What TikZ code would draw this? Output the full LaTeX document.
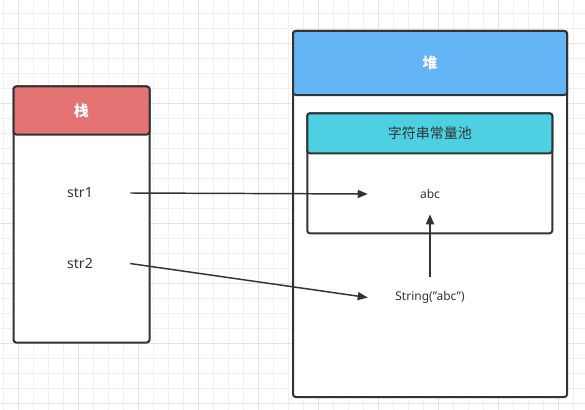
\documentclass[tikz,border=0pt]{standalone}
\usepackage{fontspec}
\setmainfont{Noto Sans}
\newfontfamily\cjk{Noto Sans CJK SC}
\usetikzlibrary{arrows.meta, positioning}
\definecolor{stackred}{HTML}{E57373}
\definecolor{heapblue}{HTML}{64B5F6}
\definecolor{poolcyan}{HTML}{4DD0E1}
\definecolor{inkgray}{HTML}{333333}
\definecolor{gridminor}{HTML}{F0F0F0}
\definecolor{gridmajor}{HTML}{E2E2E2}

\begin{document}
\begin{tikzpicture}[
    x=0.75pt, y=-0.75pt,
    lane/.style={rectangle, draw=inkgray, line width=1.5pt, rounded corners=2pt, fill=white, inner sep=0pt},
    head/.style={lane, text=white, font=\cjk\bfseries\fontsize{11}{13}\selectfont},
    var/.style={rectangle, minimum width=75pt, minimum height=30pt, inner sep=0pt, text=inkgray, font=\fontsize{10.5}{12}\selectfont},
    obj/.style={rectangle, minimum width=93pt, minimum height=30pt, inner sep=0pt, text=inkgray, font=\fontsize{9}{11}\selectfont},
    arr/.style={-{Triangle[length=7.5pt, width=6pt]}, line width=1.1pt, draw=inkgray}
]
    \useasboundingbox (0,0) rectangle (585,410);
    \fill[white] (0,0) rectangle (585,410);

    % Grid
    \foreach \i in {0,...,38} \draw[gridminor, line width=0.75pt] ({3.3+15*\i},0) -- ++(0,410);
    \foreach \i in {0,...,26} \draw[gridminor, line width=0.75pt] (0,{13.3+15*\i}) -- ++(585,0);
    \foreach \i in {0,...,9} \draw[gridmajor, line width=0.75pt] ({18.3+60*\i},0) -- ++(0,410);
    \foreach \i in {0,...,6} \draw[gridmajor, line width=0.75pt] (0,{43.3+60*\i}) -- ++(585,0);

    % Stack
    \node[lane, minimum width=102pt, minimum height=192pt] (stack) at (81.5,214.5) {};
    \node[head, fill=stackred, minimum width=102pt, minimum height=36pt, anchor=north] (stackhead) at (stack.north) {栈};

    % Heap
    \node[lane, minimum width=205.5pt, minimum height=274.5pt] (heap) at (430,214) {};
    \node[head, fill=heapblue, minimum width=205.5pt, minimum height=48pt, anchor=north] (heaphead) at (heap.north) {堆};

    % String pool
    \node[lane, minimum width=183.75pt, minimum height=90pt] (pool) at (429.75,173.3) {};
    \node[lane, fill=poolcyan, text=inkgray, font=\cjk\fontsize{10.5}{12}\selectfont, minimum width=183.75pt, minimum height=30pt, anchor=north] (poolhead) at (pool.north) {字符串常量池};

    % Variables and objects
    \node[var] (str1) at (80,193) {str1};
    \node[var, below=22.5pt of str1] (str2) {str2};
    \node[obj] (abc) at (430,194) {abc};
    \node[obj, below=47.25pt of abc] (strobj) {String(\symbol{34}abc\symbol{34})};

    % References
    \draw[arr] (str1.east) -- (abc.west);
    \draw[arr] (str2.east) -- (strobj.west);
    \draw[arr] (strobj) -- (abc);

\end{tikzpicture}
\end{document}
